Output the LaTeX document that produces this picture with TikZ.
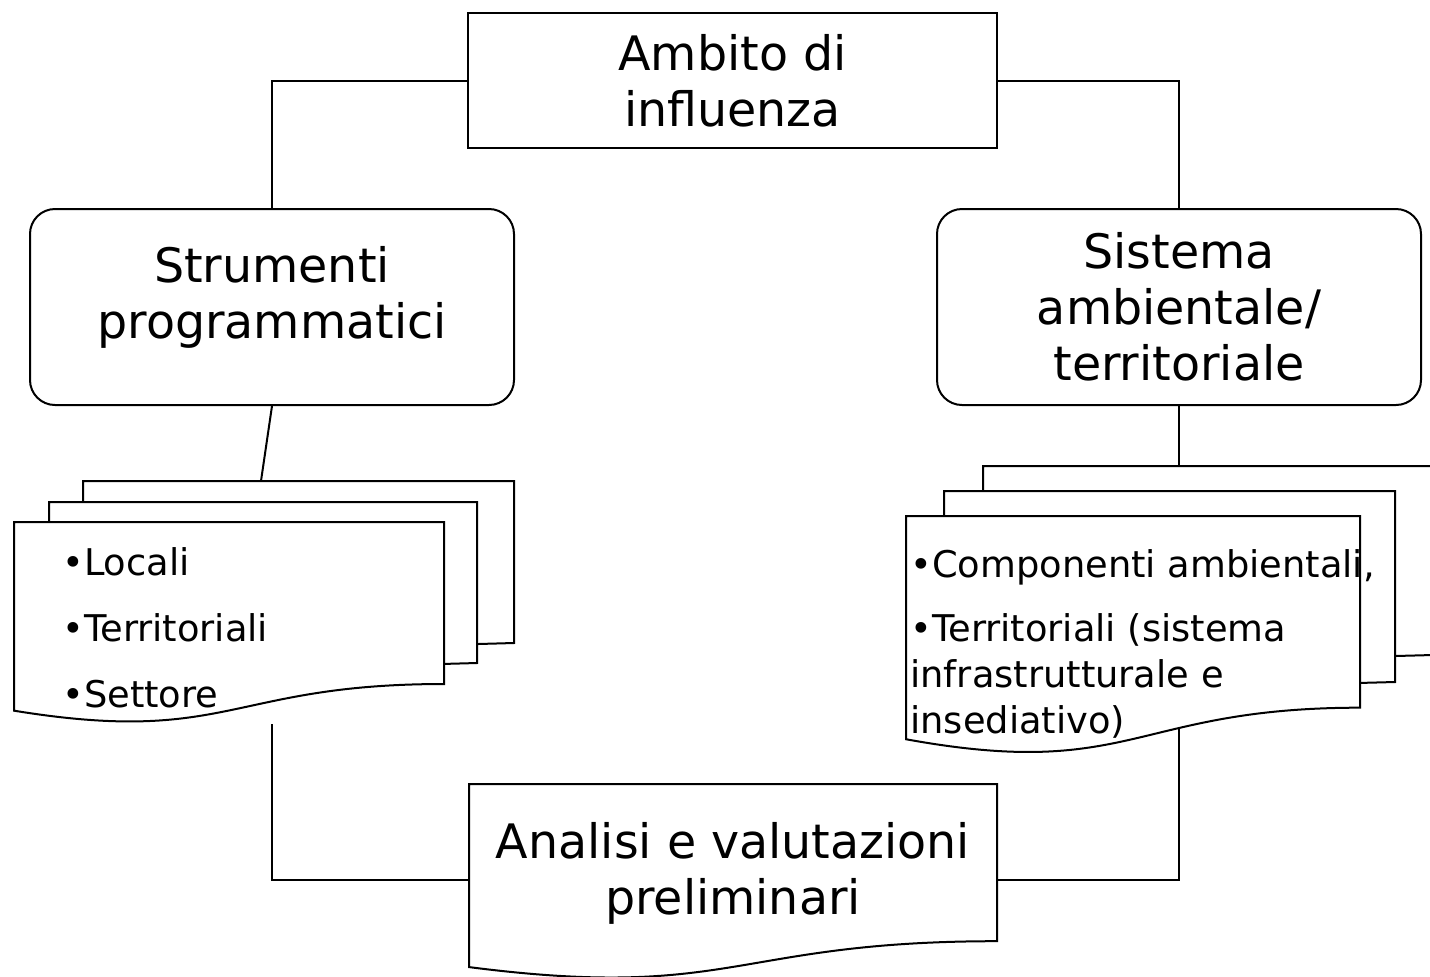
\documentclass[tikz,border=0pt]{standalone}
\usepackage{fontspec}
\setmainfont{DejaVu Sans}
\usepackage{tikz}

\tikzset{
  box/.style={draw, line width=1pt, align=center, inner sep=0pt,
    font=\fontsize{23.75}{28}\selectfont},
  roundbox/.style={box, rounded corners=12.5pt},
  page/.style={draw, fill=white, line width=1pt},
  item/.style={anchor=base west, inner sep=0pt, font=\fontsize{18.4}{23}\selectfont},
  link/.style={line width=1pt}
}
% document page with wavy bottom: left, top, width, height
\newcommand{\docpage}[4]{%
  \draw[page] (#1,#2) -- (#1+#3,#2) -- (#1+#3,#2+0.802*#4)
    .. controls (#1+0.5*#3,#2+0.802*#4) and (#1+0.5*#3,#2+1.1075*#4) .. (#1,#2+0.934*#4) -- cycle;}
% page behind: left, top, right, right bottom, left bottom
\newcommand{\backpage}[5]{%
  \draw[page] (#1,#2) -- (#3,#2) -- (#3,#4) -- (#1,#5) -- cycle;}

\begin{document}
\begin{tikzpicture}[x=0.5pt,y=-0.5pt]
\useasboundingbox (0,0) rectangle (1430,976);
\clip (0,0) rectangle (1430,976);
% boxes
\node (ambito) [box, minimum width=264.5pt, minimum height=67.5pt] at (732.5,80.5) {Ambito di\\influenza};
\node (strumenti) [roundbox, minimum width=242pt, minimum height=98pt, text depth=15pt] at (272,307) {Strumenti\\programmatici};
\node (sistema) [roundbox, minimum width=242pt, minimum height=98pt] at (1179,307) {Sistema\\ambientale/\\territoriale};
% free ends of the connectors
\coordinate (ltop) at (261,481);
\coordinate (rtop) at (1179,466);
\coordinate (lbot) at (272,724);
\coordinate (rbot) at (1179,729);
\coordinate (analisiW) at (469,880);
\coordinate (analisiE) at (997,880);
% connectors
\draw[link] (ambito.west) -| (strumenti.north);
\draw[link] (ambito.east) -| (sistema.north);
\draw[link] (strumenti.south) -- (ltop);
\draw[link] (sistema.south) -- (rtop);
\draw[link] (lbot) |- (analisiW);
\draw[link] (rbot) |- (analisiE);
% left stack of pages
\backpage{83}{481}{514}{643}{655}
\backpage{49}{502}{477}{663}{675}
\docpage{14}{522}{430}{202}
\node (locali) [item] at (62,575) {•Locali};
\node (territoriali) [item] at (62,641) {•Territoriali};
\node (settore) [item] at (62,707) {•Settore};
% right stack of pages
\backpage{983}{466}{1433}{655}{667}
\backpage{944}{491}{1395}{682}{694}
\docpage{906}{516}{454}{239}
\node (componenti) [item] at (910,577) {•Componenti ambientali,};
\node (territA) [item] at (910,641) {•Territoriali (sistema};
\node (territB) [item] at (910,687) {infrastrutturale e};
\node (territC) [item] at (910,733) {insediativo)};
% bottom document
\docpage{469}{784}{528}{196}
\node (analisi) [box, draw=none] at (733,873) {Analisi e valutazioni\\preliminari};
\end{tikzpicture}
\end{document}
